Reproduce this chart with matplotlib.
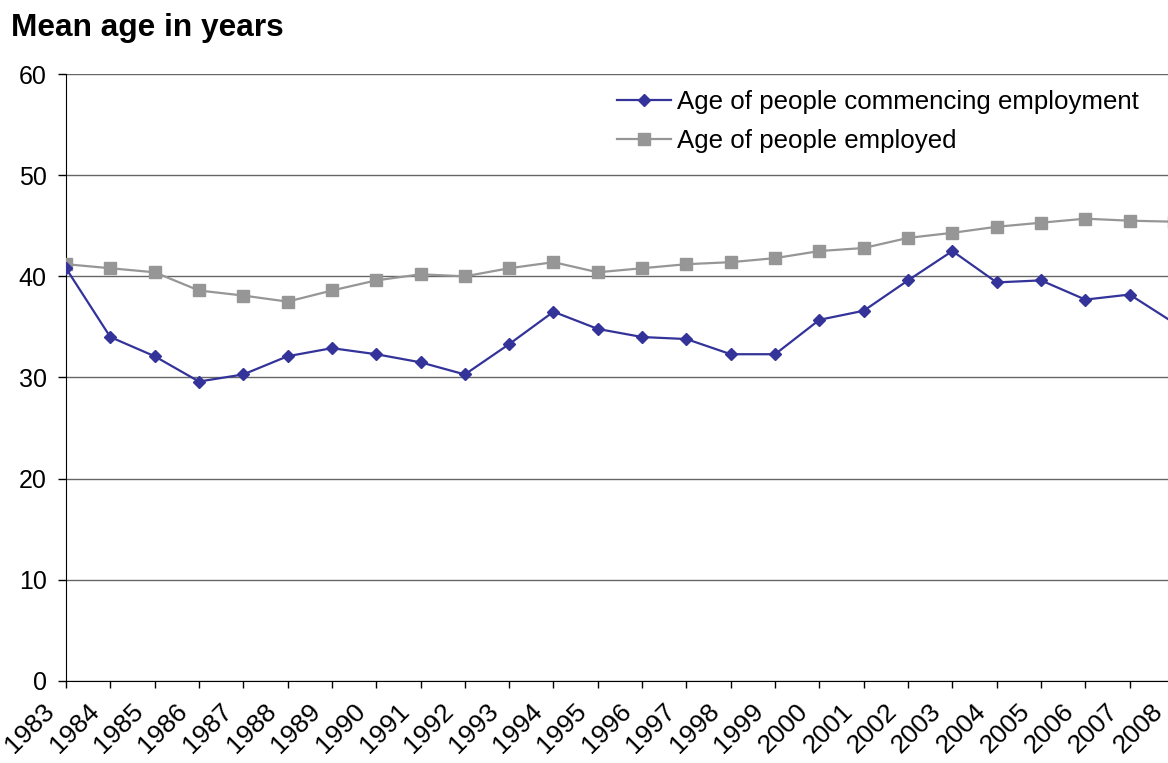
import matplotlib.pyplot as plt
from matplotlib.transforms import ScaledTranslation

plt.rcParams['font.family'] = ['Liberation Sans', 'DejaVu Sans']

years = list(range(1983, 2009))
age_commencing = [40.8, 34.0, 32.1, 29.6, 30.3, 32.1, 32.9, 32.3, 31.5, 30.3,
                  33.3, 36.5, 34.8, 34.0, 33.8, 32.3, 32.3, 35.7, 36.6, 39.6,
                  42.5, 39.4, 39.6, 37.7, 38.2, 35.4]
age_employed = [41.2, 40.8, 40.4, 38.6, 38.1, 37.5, 38.6, 39.6, 40.2, 40.0,
                40.8, 41.4, 40.4, 40.8, 41.2, 41.4, 41.8, 42.5, 42.8, 43.8,
                44.3, 44.9, 45.3, 45.7, 45.5, 45.4]
yticks = [0, 10, 20, 30, 40, 50, 60]

fig = plt.figure(figsize=(11.68, 7.63), dpi=100)
# plot area runs a little past the right edge, so 2008 sits just off the page
ax = fig.add_axes([0.0565, 0.1075, 0.9486, 0.7955])

ax.plot(years, age_commencing, color='#333399', lw=1.6, marker='D', ms=6.5,
        label='Age of people commencing employment', zorder=4)
ax.plot(years, age_employed, color='#969696', lw=1.6, marker='s', ms=8,
        label='Age of people employed', zorder=3)

ax.set_xlim(1983, 2008)
ax.set_ylim(0, 60)
ax.set_yticks(yticks)
ax.set_xticks(years)
ax.set_xticklabels([str(y) for y in years], rotation=45, ha='right',
                   va='center', rotation_mode='anchor')
ax.grid(axis='y', color='#666666', lw=1)
ax.set_axisbelow(True)
ax.spines['top'].set_visible(False)
ax.spines['right'].set_visible(False)
ax.tick_params(axis='y', direction='out', length=6, width=1, pad=8, labelsize=18)
ax.tick_params(axis='x', direction='out', length=5, width=1, pad=14, labelsize=19)

shift = ScaledTranslation(-0.15, 0, fig.dpi_scale_trans)
for lab in ax.get_xticklabels():
    lab.set_transform(lab.get_transform() + shift)

fig.text(0.009, 0.953, 'Mean age in years', fontsize=22.8, fontweight='bold',
         va='baseline', ha='left')

ax.legend(loc='upper left', bbox_to_anchor=(0.528, 0.882),
          bbox_transform=fig.transFigure, frameon=False, fontsize=18.6,
          handlelength=2.1, handletextpad=0.25, labelspacing=0.57,
          borderpad=0, borderaxespad=0)

fig.savefig('out.png', dpi=100)
